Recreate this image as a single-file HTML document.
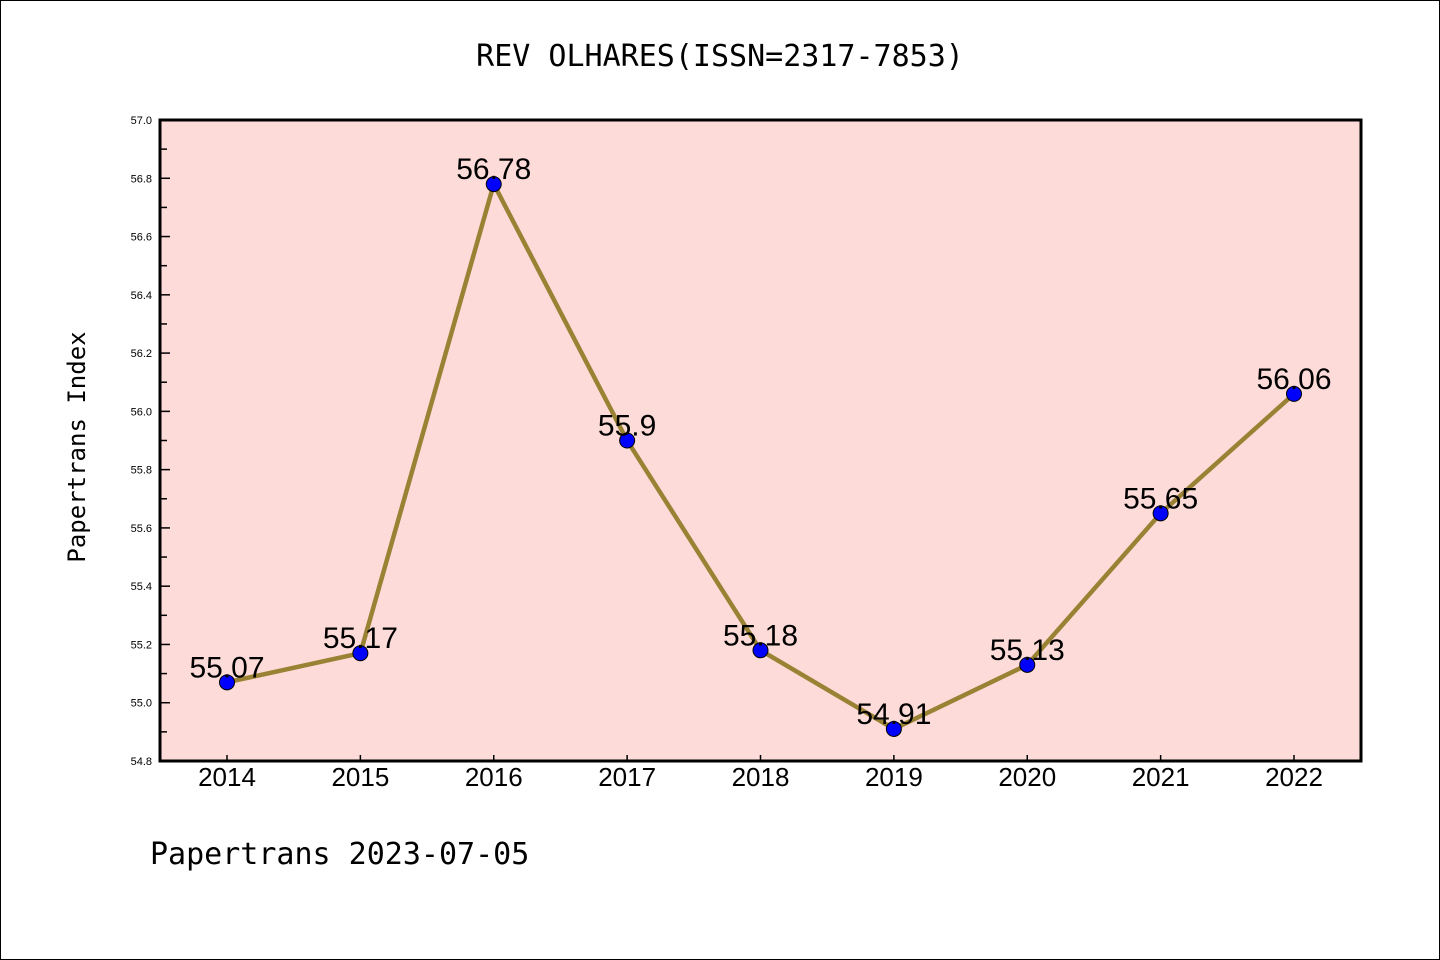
<!DOCTYPE html>
<html><head><meta charset="utf-8"><style>
html,body{margin:0;padding:0;background:#fff;}
svg{display:block;}
.mono{font-family:"DejaVu Sans Mono","Liberation Mono",monospace;}
.sans{font-family:"Liberation Sans","DejaVu Sans",sans-serif;}
</style></head><body>
<svg id="chart" width="1440" height="960">
<rect x="0.5" y="0.5" width="1439" height="959" fill="#fff" stroke="#000"/>
<text class="mono" x="720" y="66" font-size="30" text-anchor="middle">REV OLHARES(ISSN=2317-7853)</text>
<rect x="160" y="120" width="1201" height="641" fill="#fddbd8"/>
<g id="yaxis"></g>
<g id="xaxis"></g>
<g id="series"></g>
<rect x="160" y="120" width="1201" height="641" fill="none" stroke="#000" stroke-width="3"/>
<text class="mono" x="85" y="447" font-size="24" text-anchor="middle" transform="rotate(-90 85 447)">Papertrans Index</text>
<text class="mono" x="150" y="864" font-size="30">Papertrans 2023-07-05</text>
</svg>
<script>
const years = ["2014","2015","2016","2017","2018","2019","2020","2021","2022"];
const values = [55.07,55.17,56.78,55.9,55.18,54.91,55.13,55.65,56.06];
const labels = ["55.07","55.17","56.78","55.9","55.18","54.91","55.13","55.65","56.06"];
const yTicks = [54.8,55.0,55.2,55.4,55.6,55.8,56.0,56.2,56.4,56.6,56.8,57.0];
const NS="http://www.w3.org/2000/svg";
const yMin=54.8,yMax=57.0,plotTop=120,plotBot=761;
function ys(v){return plotBot-(v-yMin)/(yMax-yMin)*(plotBot-plotTop);}
function xs(i){return 227+i*(1294-227)/(years.length-1);}
function mk(tag,attrs,parent){const e=document.createElementNS(NS,tag);for(const k in attrs)e.setAttribute(k,attrs[k]);parent.appendChild(e);return e;}
const ya=document.getElementById('yaxis'),xa=document.getElementById('xaxis'),sg=document.getElementById('series');
yTicks.forEach((t,i)=>{
  const y=ys(t);
  const ln=mk('line',{x1:160,x2:170,y1:y,y2:y,stroke:'#000','stroke-width':1.5},ya);
  
  
  const tx=mk('text',{x:152,y:y+4,'font-size':11,'text-anchor':'end','class':'sans'},ya);
  tx.textContent=t.toFixed(1);
  
  
  if(i<yTicks.length-1){
    const ym=ys(t+0.1);
    const mn=mk('line',{x1:160,x2:167,y1:ym,y2:ym,stroke:'#000','stroke-width':1.5},ya);
    
    
  }
});
years.forEach((yr,i)=>{
  const x=xs(i);
  const ln=mk('line',{x1:x,x2:x,y1:plotBot,y2:plotBot-6,stroke:'#000','stroke-width':1.5},xa);
  
  
  const tx=mk('text',{x:x,y:plotBot+25,'font-size':26,'text-anchor':'middle','class':'sans'},xa);
  tx.textContent=yr;
  
  
});
const pts=values.map((v,i)=>xs(i)+','+ys(v)).join(' ');
const pl=mk('polyline',{points:pts,fill:'none',stroke:'#9a8235','stroke-width':4.5,'stroke-linejoin':'round'},sg);


values.forEach((v,i)=>{
  const c=mk('circle',{cx:xs(i),cy:ys(v),r:7.5,fill:'#0000ff',stroke:'#000','stroke-width':1},sg);
  
  
});
values.forEach((v,i)=>{
  const t=mk('text',{x:xs(i),y:ys(v)-5,'font-size':30,'text-anchor':'middle',fill:'#000','class':'sans'},sg);
  t.textContent=labels[i];
  
  
});
</script>
</body></html>
